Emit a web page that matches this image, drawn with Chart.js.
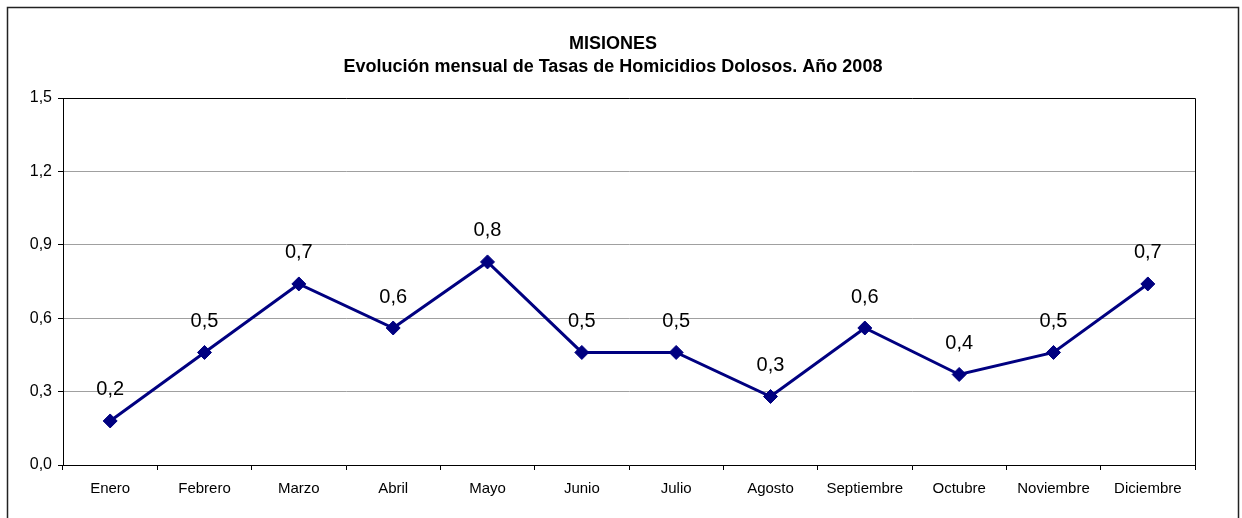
<!DOCTYPE html>
<html>
<head>
<meta charset="utf-8">
<script src="https://cdn.jsdelivr.net/npm/chart.js@4.4.1/dist/chart.umd.min.js"></script>
<style>
  html, body { margin: 0; padding: 0; background: #ffffff; }
  #wrap { width: 1242px; height: 518px; }
</style>
</head>
<body>
<div id="wrap"><canvas id="c" width="1242" height="518"></canvas></div>
<script>
const titleLines = ['MISIONES', 'Evolución mensual de Tasas de Homicidios Dolosos. Año 2008'];
const categories = ['Enero', 'Febrero', 'Marzo', 'Abril', 'Mayo', 'Junio', 'Julio', 'Agosto', 'Septiembre', 'Octubre', 'Noviembre', 'Diciembre'];
const tasas = [0.18, 0.46, 0.74, 0.56, 0.83, 0.46, 0.46, 0.28, 0.56, 0.37, 0.46, 0.74];
const yMin = 0, yMax = 1.5, yStep = 0.3;

const FONT = '"Liberation Sans", Arial, Helvetica, sans-serif';
const fmt = v => Number(v).toFixed(1).replace('.', ',');

const framePlugin = {
  id: 'frame',
  beforeDraw(chart) {
    const ctx = chart.ctx;
    ctx.save();
    ctx.fillStyle = '#ffffff';
    ctx.fillRect(0, 0, chart.width, chart.height);
    ctx.strokeStyle = '#222222';
    ctx.lineWidth = 1.5;
    ctx.strokeRect(7.5, 7.5, 1231, 530);
    // title
    ctx.fillStyle = '#000000';
    ctx.font = 'bold 18px ' + FONT;
    ctx.textAlign = 'center';
    ctx.textBaseline = 'alphabetic';
    ctx.fillText(titleLines[0], 613, 49);
    ctx.fillText(titleLines[1], 613, 72);
    ctx.restore();
  },
  afterDraw(chart) {
    const a = chart.chartArea;
    const ctx = chart.ctx;
    ctx.save();
    ctx.strokeStyle = '#000000';
    ctx.lineWidth = 1;
    ctx.beginPath();
    ctx.moveTo(Math.round(a.left) + 0.5, Math.round(a.top) + 0.5);
    ctx.lineTo(Math.round(a.right) + 0.5, Math.round(a.top) + 0.5);
    ctx.lineTo(Math.round(a.right) + 0.5, Math.round(a.bottom) + 0.5);
    ctx.stroke();
    ctx.restore();
  }
};

const labelPlugin = {
  id: 'pointLabels',
  afterDatasetsDraw(chart) {
    const ctx = chart.ctx;
    const meta = chart.getDatasetMeta(0);
    ctx.save();
    ctx.font = '20px ' + FONT;
    ctx.fillStyle = '#000000';
    ctx.textAlign = 'center';
    ctx.textBaseline = 'middle';
    meta.data.forEach((pt, i) => {
      ctx.fillText(fmt(chart.data.datasets[0].data[i]), pt.x, pt.y - 31);
    });
    ctx.restore();
  }
};

new Chart(document.getElementById('c'), {
  type: 'line',
  data: {
    labels: categories,
    datasets: [{
      data: tasas,
      borderColor: '#000080',
      backgroundColor: '#000080',
      borderWidth: 3,
      pointStyle: 'rectRot',
      pointRadius: 7,
      pointBorderWidth: 1,
      pointBorderColor: '#000080',
      pointBackgroundColor: '#000080',
      tension: 0,
      fill: false
    }]
  },
  options: {
    responsive: false,
    animation: false,
    devicePixelRatio: 1,
    layout: { padding: { left: 0, right: 47, top: 98, bottom: 0 } },
    plugins: {
      legend: { display: false },
      tooltip: { enabled: false },
      title: { display: false }
    },
    scales: {
      x: {
        offset: true,
        grid: {
          offset: true,
          drawOnChartArea: false,
          drawTicks: true,
          tickLength: 5,
          tickColor: '#000000',
          color: '#000000'
        },
        border: { display: true, color: '#000000', width: 1 },
        ticks: {
          color: '#000000',
          font: { family: FONT, size: 15 },
          padding: 10,
          maxRotation: 0,
          autoSkip: false
        },
        afterFit(scale) { scale.height = 53; }
      },
      y: {
        min: yMin,
        max: yMax,
        grid: {
          color: '#a0a0a0',
          tickColor: '#000000',
          tickLength: 5,
          drawTicks: true
        },
        border: { display: true, color: '#000000', width: 1 },
        ticks: {
          stepSize: yStep,
          color: '#000000',
          font: { family: FONT, size: 16 },
          padding: 6,
          callback: v => fmt(v)
        },
        afterFit(scale) { scale.width = 63; }
      }
    }
  },
  plugins: [framePlugin, labelPlugin]
});
</script>
</body>
</html>
